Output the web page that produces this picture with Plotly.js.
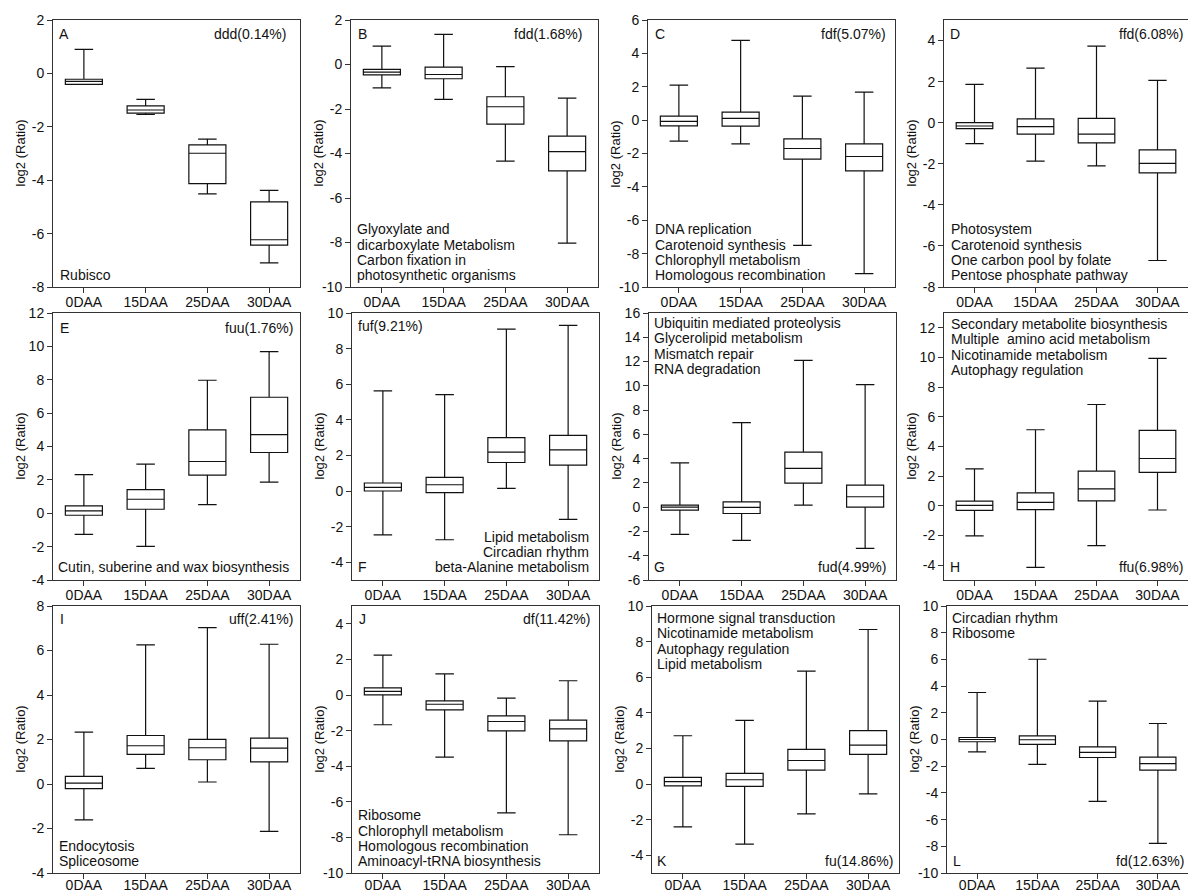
<!DOCTYPE html>
<html><head><meta charset="utf-8">
<script src="https://cdn.plot.ly/plotly-3.0.1.min.js"></script>
<style>html,body{margin:0;padding:0;background:#fff}#chart{width:1188px;height:894px}</style>
</head><body><div id="chart"></div>
<script>
const categories = ['0DAA', '15DAA', '25DAA', '30DAA'];

// Panel A  (ddd)
const upperA  = [0.90, -0.97, -2.46, -4.38];
const q3A     = [-0.22, -1.22, -2.68, -4.81];
const medianA = [-0.30, -1.37, -2.99, -6.23];
const q1A     = [-0.41, -1.49, -4.13, -6.43];
const lowerA  = [-0.41, -1.54, -4.51, -7.10];
// Panel B  (fdd)
const upperB  = [0.83, 1.35, -0.10, -1.51];
const q3B     = [-0.22, -0.12, -1.45, -3.22];
const medianB = [-0.34, -0.45, -1.90, -3.92];
const q1B     = [-0.47, -0.64, -2.68, -4.78];
const lowerB  = [-1.05, -1.57, -4.34, -8.03];
// Panel C  (fdf)
const upperC  = [2.10, 4.78, 1.44, 1.68];
const q3C     = [0.24, 0.48, -1.12, -1.42];
const medianC = [-0.08, 0.10, -1.70, -2.18];
const q1C     = [-0.34, -0.36, -2.34, -3.04];
const lowerC  = [-1.26, -1.42, -7.50, -9.20];
// Panel D  (ffd)
const upperD  = [1.87, 2.66, 3.73, 2.06];
const q3D     = [0.00, 0.19, 0.21, -1.32];
const medianD = [-0.16, -0.19, -0.56, -1.98];
const q1D     = [-0.29, -0.56, -0.98, -2.44];
const lowerD  = [-1.02, -1.87, -2.10, -6.71];
// Panel E  (fuu)
const upperE  = [2.32, 2.94, 7.97, 9.68];
const q3E     = [0.44, 1.42, 5.00, 6.95];
const medianE = [0.14, 0.84, 3.10, 4.71];
const q1E     = [-0.12, 0.24, 2.28, 3.64];
const lowerE  = [-1.27, -1.99, 0.52, 1.86];
// Panel F  (fuf)
const upperF  = [5.63, 5.41, 9.09, 9.31];
const q3F     = [0.45, 0.76, 3.00, 3.13];
const medianF = [0.20, 0.35, 2.18, 2.31];
const q1F     = [0.00, -0.09, 1.60, 1.45];
const lowerF  = [-2.46, -2.74, 0.15, -1.59];
// Panel G  (fud)
const upperG  = [3.65, 6.97, 12.10, 10.10];
const q3G     = [0.17, 0.44, 4.53, 1.82];
const medianG = [0.00, -0.02, 3.19, 0.86];
const q1G     = [-0.24, -0.52, 1.98, 0.00];
const lowerG  = [-2.24, -2.74, 0.17, -3.40];
// Panel H  (ffu)
const upperH  = [2.49, 5.13, 6.83, 9.94];
const q3H     = [0.32, 0.88, 2.34, 5.09];
const medianH = [0.03, 0.23, 1.15, 3.19];
const q1H     = [-0.30, -0.26, 0.34, 2.25];
const lowerH  = [-2.03, -4.15, -2.68, -0.28];
// Panel I  (uff)
const upperI  = [2.33, 6.25, 7.03, 6.28];
const q3I     = [0.34, 2.18, 2.01, 2.06];
const medianI = [0.04, 1.72, 1.63, 1.61];
const q1I     = [-0.21, 1.33, 1.09, 0.99];
const lowerI  = [-1.61, 0.70, 0.09, -2.13];
// Panel J  (df)
const upperJ  = [2.24, 1.19, -0.17, 0.80];
const q3J     = [0.40, -0.33, -1.17, -1.41];
const medianJ = [0.20, -0.52, -1.49, -1.90];
const q1J     = [0.01, -0.84, -2.01, -2.58];
const lowerJ  = [-1.67, -3.49, -6.62, -7.85];
// Panel K  (fu)
const upperK  = [2.71, 3.58, 6.34, 8.68];
const q3K     = [0.37, 0.60, 1.94, 3.00];
const medianK = [0.13, 0.24, 1.32, 2.18];
const q1K     = [-0.11, -0.13, 0.78, 1.66];
const lowerK  = [-2.41, -3.38, -1.68, -0.56];
// Panel L  (fd)
const upperL  = [3.52, 6.01, 2.87, 1.20];
const q3L     = [0.15, 0.27, -0.55, -1.32];
const medianL = [0.00, -0.02, -0.97, -1.80];
const q1L     = [-0.17, -0.37, -1.35, -2.29];
const lowerL  = [-0.92, -1.87, -4.64, -7.78];

// y tick labels for each panel
const yTicksA = [-8, -6, -4, -2, 0, 2];
const yTicksB = [-10, -8, -6, -4, -2, 0, 2];
const yTicksC = [-10, -8, -6, -4, -2, 0, 2, 4, 6];
const yTicksD = [-8, -6, -4, -2, 0, 2, 4];
const yTicksE = [-4, -2, 0, 2, 4, 6, 8, 10, 12];
const yTicksF = [-4, -2, 0, 2, 4, 6, 8, 10];
const yTicksG = [-6, -4, -2, 0, 2, 4, 6, 8, 10, 12, 14, 16];
const yTicksH = [-4, -2, 0, 2, 4, 6, 8, 10, 12];
const yTicksI = [-4, -2, 0, 2, 4, 6, 8];
const yTicksJ = [-10, -8, -6, -4, -2, 0, 2, 4];
const yTicksK = [-4, -2, 0, 2, 4, 6, 8, 10];
const yTicksL = [-10, -8, -6, -4, -2, 0, 2, 4, 6, 8, 10];

// axis ranges
const yRangeA = [-8, 2];
const yRangeB = [-10, 2];
const yRangeC = [-10, 6];
const yRangeD = [-8, 5];
const yRangeE = [-4, 12];
const yRangeF = [-5, 10];
const yRangeG = [-6, 16];
const yRangeH = [-5, 13];
const yRangeI = [-4, 8];
const yRangeJ = [-10, 5];
const yRangeK = [-5, 10];
const yRangeL = [-10, 10];

// panel texts
const letters = ['A','B','C','D','E','F','G','H','I','J','K','L'];
const groupLabels = ['ddd(0.14%)','fdd(1.68%)','fdf(5.07%)','ffd(6.08%)','fuu(1.76%)','fuf(9.21%)',
                     'fud(4.99%)','ffu(6.98%)','uff(2.41%)','df(11.42%)','fu(14.86%)','fd(12.63%)'];
const pathwaysA = ['Rubisco'];
const pathwaysB = ['Glyoxylate and', 'dicarboxylate Metabolism', 'Carbon fixation in', 'photosynthetic organisms'];
const pathwaysC = ['DNA replication', 'Carotenoid synthesis', 'Chlorophyll metabolism', 'Homologous recombination'];
const pathwaysD = ['Photosystem', 'Carotenoid synthesis', 'One carbon pool by folate', 'Pentose phosphate pathway'];
const pathwaysE = ['Cutin, suberine and wax biosynthesis'];
const pathwaysF = ['Lipid metabolism', 'Circadian rhythm', 'beta-Alanine metabolism'];
const pathwaysG = ['Ubiquitin mediated proteolysis', 'Glycerolipid metabolism', 'Mismatch repair', 'RNA degradation'];
const pathwaysH = ['Secondary metabolite biosynthesis', 'Multiple  amino acid metabolism', 'Nicotinamide metabolism', 'Autophagy regulation'];
const pathwaysI = ['Endocytosis', 'Spliceosome'];
const pathwaysJ = ['Ribosome', 'Chlorophyll metabolism', 'Homologous recombination', 'Aminoacyl-tRNA biosynthesis'];
const pathwaysK = ['Hormone signal transduction', 'Nicotinamide metabolism', 'Autophagy regulation', 'Lipid metabolism'];
const pathwaysL = ['Circadian rhythm', 'Ribosome'];
const yTitle = 'log2 (Ratio)';

// ---------------- layout machinery ----------------
const W = 1188, H = 894;
const stats = [
  [upperA,q3A,medianA,q1A,lowerA],[upperB,q3B,medianB,q1B,lowerB],[upperC,q3C,medianC,q1C,lowerC],
  [upperD,q3D,medianD,q1D,lowerD],[upperE,q3E,medianE,q1E,lowerE],[upperF,q3F,medianF,q1F,lowerF],
  [upperG,q3G,medianG,q1G,lowerG],[upperH,q3H,medianH,q1H,lowerH],[upperI,q3I,medianI,q1I,lowerI],
  [upperJ,q3J,medianJ,q1J,lowerJ],[upperK,q3K,medianK,q1K,lowerK],[upperL,q3L,medianL,q1L,lowerL]];
const ticks = [yTicksA,yTicksB,yTicksC,yTicksD,yTicksE,yTicksF,yTicksG,yTicksH,yTicksI,yTicksJ,yTicksK,yTicksL];
const ranges = [yRangeA,yRangeB,yRangeC,yRangeD,yRangeE,yRangeF,yRangeG,yRangeH,yRangeI,yRangeJ,yRangeK,yRangeL];

// pixel frames of panels
const lefts = [53,351,648,944, 53,352,649,944, 53,352,652,947];
const tops = [20,20,20,20, 313,313,313,313, 606,606,606,606];
const PW = 247, PH = 267;

const FONT = 'Liberation Sans, Arial, Helvetica, sans-serif';
const INK = '#111111';
const LINE = '#333333';

const data = [];
const layout = {
  width: W, height: H, margin: {l:0, r:0, t:0, b:0},
  paper_bgcolor: '#fff', plot_bgcolor: '#fff', showlegend: false,
  font: {family: FONT, size: 14, color: INK},
  annotations: []
};

for (let p = 0; p < 12; p++) {
  const n = p === 0 ? '' : String(p + 1);
  const [up, q3, med, q1, lo] = stats[p];
  data.push({
    type: 'box', x: categories, upperfence: up, q3: q3, median: med, q1: q1, lowerfence: lo,
    xaxis: 'x' + n, yaxis: 'y' + n, boxpoints: false, width: 0.6, whiskerwidth: 0.5,
    line: {color: INK, width: 1.2}, fillcolor: 'rgba(255,255,255,0)', hoverinfo: 'skip'
  });
  const x0 = lefts[p] / W, x1 = Math.min(lefts[p] + PW, W) / W;
  const y1 = 1 - tops[p] / H, y0 = 1 - (tops[p] + PH) / H;
  layout['xaxis' + n] = {
    domain: [x0, x1], anchor: 'y' + n, type: 'category', range: [-0.5, 3.5],
    showline: true, mirror: true, linecolor: LINE, linewidth: 1,
    ticks: 'outside', ticklen: 5, tickcolor: LINE, showgrid: false, zeroline: false,
    ticklabelstandoff: p >= 8 ? -6 : -3,
    tickfont: {family: FONT, size: 14, color: INK}, fixedrange: true
  };
  layout['yaxis' + n] = {
    domain: [y0, y1], anchor: 'x' + n, range: ranges[p],
    tickvals: ticks[p], ticktext: ticks[p].map(v => String(v)),
    showline: true, mirror: true, linecolor: LINE, linewidth: 1,
    ticks: 'outside', ticklen: 5, tickcolor: LINE, showgrid: false, zeroline: false,
    tickfont: {family: FONT, size: 14, color: INK}, fixedrange: true
  };
  // y-axis title
  layout.annotations.push({
    text: yTitle, xref: 'paper', yref: 'paper', x: (lefts[p] - 33) / W, y: (y0 + y1) / 2,
    xanchor: 'center', yanchor: 'middle', textangle: -90, showarrow: false,
    font: {family: FONT, size: 13, color: INK}
  });
}

const LS = 15.3;
function addText(p, lines, side, vert, dx, dBase) {
  const n = p === 0 ? '' : String(p + 1);
  const nl = lines.length;
  lines.forEach((t, i) => {
    let y, ys;
    if (vert === 'top') { y = 1; ys = -(dBase + i * LS - 4.85); }
    else { y = 0; ys = dBase + (nl - 1 - i) * LS + 4.85; }
    layout.annotations.push({
      text: t, xref: 'x' + n + ' domain', yref: 'y' + n + ' domain',
      x: side === 'left' ? 0 : 1, y: y, xanchor: side, yanchor: 'middle',
      xshift: side === 'left' ? dx - 2 : -(dx - 2), yshift: ys,
      showarrow: false, font: {family: FONT, size: 14, color: INK}
    });
  });
}
// A
addText(0, [letters[0]], 'left', 'top', 6, 19);
addText(0, [groupLabels[0]], 'right', 'top', 14, 19);
addText(0, pathwaysA, 'left', 'bottom', 7, 7);
// B
addText(1, [letters[1]], 'left', 'top', 7, 19);
addText(1, [groupLabels[1]], 'right', 'top', 16, 19);
addText(1, pathwaysB, 'left', 'bottom', 6, 7);
// C
addText(2, [letters[2]], 'left', 'top', 7, 19);
addText(2, [groupLabels[2]], 'right', 'top', 9, 19);
addText(2, pathwaysC, 'left', 'bottom', 7, 7);
// D
addText(3, [letters[3]], 'left', 'top', 6, 19);
addText(3, [groupLabels[3]], 'right', 'top', 5, 19);
addText(3, pathwaysD, 'left', 'bottom', 7, 7);
// E
addText(4, [letters[4]], 'left', 'top', 7, 19.5);
addText(4, [groupLabels[4]], 'right', 'top', 7, 19.5);
addText(4, pathwaysE, 'left', 'bottom', 5, 8);
// F
addText(5, [groupLabels[5]], 'left', 'top', 6, 18);
addText(5, [letters[5]], 'left', 'bottom', 6, 8);
addText(5, pathwaysF, 'right', 'bottom', 10, 8);
// G
addText(6, pathwaysG, 'left', 'top', 5, 15);
addText(6, [letters[6]], 'left', 'bottom', 5, 8);
addText(6, [groupLabels[6]], 'right', 'bottom', 10, 8);
// H
addText(7, pathwaysH, 'left', 'top', 7, 16);
addText(7, [letters[7]], 'left', 'bottom', 6, 8);
addText(7, [groupLabels[7]], 'right', 'bottom', 5, 8);
// I
addText(8, [letters[8]], 'left', 'top', 7, 18);
addText(8, [groupLabels[8]], 'right', 'top', 7, 18);
addText(8, pathwaysI, 'left', 'bottom', 6, 7);
// J
addText(9, [letters[9]], 'left', 'top', 7, 18);
addText(9, [groupLabels[9]], 'right', 'top', 9, 18);
addText(9, pathwaysJ, 'left', 'bottom', 6, 7);
// K
addText(10, pathwaysK, 'left', 'top', 5, 17);
addText(10, [letters[10]], 'left', 'bottom', 5, 7);
addText(10, [groupLabels[10]], 'right', 'bottom', 6, 7);
// L
addText(11, pathwaysL, 'left', 'top', 5, 17);
addText(11, [letters[11]], 'left', 'bottom', 6, 7);
addText(11, [groupLabels[11]], 'right', 'bottom', 4, 7);

Plotly.newPlot('chart', data, layout, {staticPlot: true, displayModeBar: false});
</script>
</body></html>
